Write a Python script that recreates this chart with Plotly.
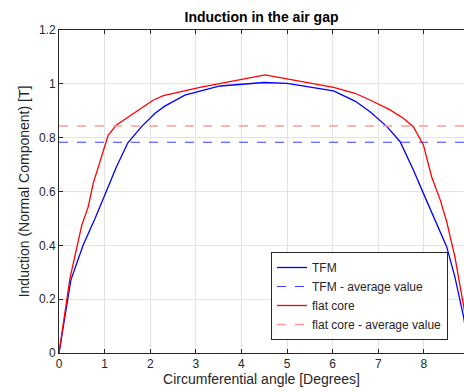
import plotly.graph_objects as go

# TFM (blue) curve
tfm_x = [0, 0.1, 0.26, 0.53, 0.79, 1.05, 1.26, 1.51, 1.81, 2.1, 2.32, 2.76, 3.53, 4.5, 5.0,
         6.02, 6.5, 6.82, 7.19, 7.48, 7.77, 7.99, 8.25, 8.5, 8.68, 8.87, 9.0]
tfm_y = [0, 0.10, 0.271, 0.401, 0.50, 0.606, 0.692, 0.781, 0.841, 0.89, 0.917, 0.958, 0.992, 1.005, 1.002,
         0.974, 0.935, 0.896, 0.841, 0.785, 0.68, 0.593, 0.494, 0.395, 0.283, 0.135, 0]

# flat core (red) curve
flat_x = [0, 0.24, 0.50, 0.64, 0.75, 0.94, 1.08, 1.26, 1.59, 2.07, 2.29, 3.09, 4.52, 6.02, 6.49,
          6.82, 7.26, 7.55, 7.77, 7.99, 8.17, 8.36, 8.50, 8.68, 8.88, 9.0]
flat_y = [0, 0.277, 0.475, 0.543, 0.630, 0.729, 0.81, 0.847, 0.884, 0.94, 0.956, 0.987, 1.033, 0.987, 0.965,
          0.94, 0.903, 0.872, 0.841, 0.773, 0.655, 0.568, 0.488, 0.358, 0.166, 0.05]

tfm_avg = 0.783
flat_avg = 0.843
x_span = [0, 9.0]

x_ticks = [0, 1, 2, 3, 4, 5, 6, 7, 8]
y_ticks = [0, 0.2, 0.4, 0.6, 0.8, 1.0, 1.2]

FONT = "Liberation Sans, Arial, sans-serif"

fig = go.Figure()
fig.add_trace(go.Scatter(x=tfm_x, y=tfm_y, mode="lines", name="TFM",
                         line=dict(color="#0000ff", width=1.3)))
fig.add_trace(go.Scatter(x=x_span, y=[tfm_avg, tfm_avg], mode="lines", name="TFM - average value",
                         line=dict(color="#3c3cff", width=1, dash="dash")))
fig.add_trace(go.Scatter(x=flat_x, y=flat_y, mode="lines", name="flat core",
                         line=dict(color="#ff0000", width=1.3)))
fig.add_trace(go.Scatter(x=x_span, y=[flat_avg, flat_avg], mode="lines", name="flat core - average value",
                         line=dict(color="#ff9c9c", width=1.5, dash="dash")))

axis_font = dict(family=FONT, size=12, color="#262626")
title_font = dict(family=FONT, size=14, color="#262626")

fig.update_layout(
    width=464, height=392,
    margin=dict(l=59, r=0, t=30, b=39),
    paper_bgcolor="white", plot_bgcolor="white",
    font=dict(family=FONT, size=12, color="#262626"),
    title=dict(text="<b>Induction in the air gap</b>", x=(59 + 464) / 2 / 464, xanchor="center",
               y=1 - 17 / 392, yanchor="middle",
               font=dict(family=FONT, size=14, color="black")),
    xaxis=dict(range=[0, 8.88], tickvals=x_ticks, showgrid=True, gridcolor="#e3e3e3",
               showline=True, linecolor="#262626", linewidth=1, mirror="ticks",
               ticks="inside", ticklen=4, tickcolor="#262626", zeroline=False,
               tickfont=axis_font,
               title=dict(text="Circumferential angle [Degrees]", standoff=2, font=title_font)),
    yaxis=dict(range=[0, 1.2], tickvals=y_ticks, showgrid=True, gridcolor="#e3e3e3",
               showline=True, linecolor="#262626", linewidth=1, mirror=False,
               ticks="inside", ticklen=4, tickcolor="#262626", zeroline=False,
               tickfont=axis_font,
               title=dict(text="Induction (Normal Component) [T]", standoff=6, font=title_font)),
    legend=dict(x=(271 - 59) / 405, y=(353 - 252) / 323, xanchor="left", yanchor="top",
                bgcolor="white", bordercolor="#262626", borderwidth=1,
                font=dict(family=FONT, size=12, color="#262626"),
                tracegroupgap=0, itemwidth=30),
    showlegend=True,
)

fig.write_html("out.html")
